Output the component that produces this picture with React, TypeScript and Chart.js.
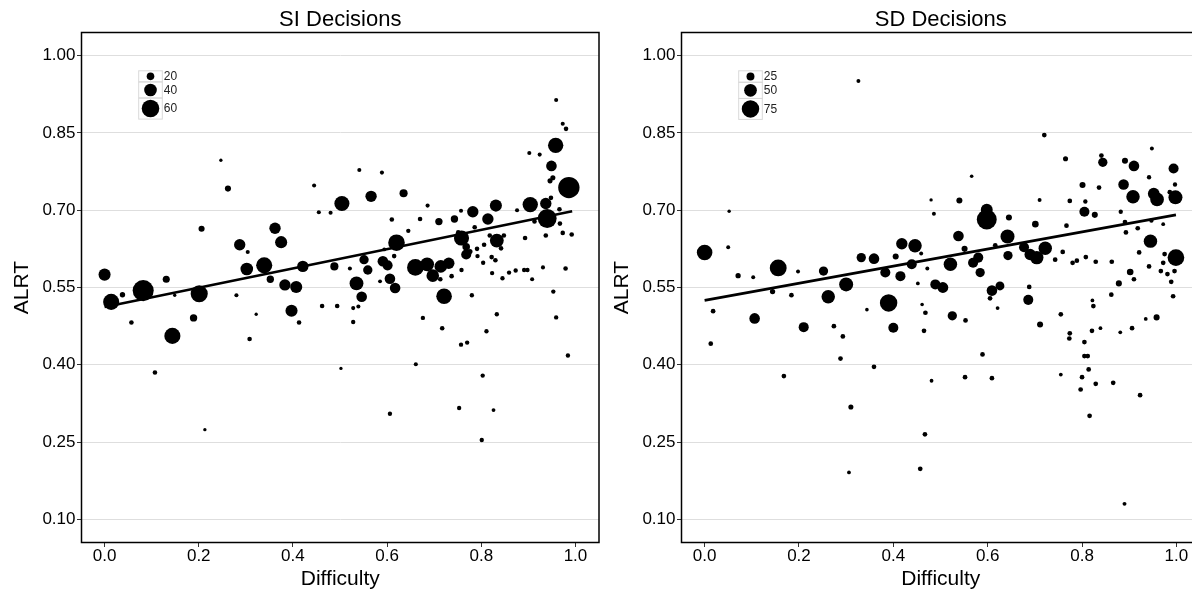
import React, { useEffect, useRef } from "react";
import { Chart, registerables } from "chart.js";

Chart.register(...registerables);

const FONT = '"Liberation Sans", Arial, Helvetica, sans-serif';

// ---- Data (Difficulty, ALRT, n) ----
const siPoints: [number, number, number][] = [
  [0.247, 0.797, 3], [0.262, 0.742, 14], [0.445, 0.748, 6], [0.455, 0.696, 6], [0.48, 0.695, 6],
  [0.504, 0.713, 50], [0.206, 0.664, 14], [0.362, 0.665, 35], [0.287, 0.633, 35], [0.375, 0.638, 38],
  [0.304, 0.619, 6], [0.0, 0.575, 38], [0.014, 0.522, 54], [0.038, 0.536, 11], [0.082, 0.544, 74],
  [0.131, 0.566, 18], [0.149, 0.535, 3], [0.201, 0.538, 58], [0.28, 0.535, 6], [0.302, 0.586, 40],
  [0.339, 0.593, 54], [0.352, 0.566, 19], [0.383, 0.555, 35], [0.407, 0.551, 38], [0.421, 0.591, 35],
  [0.397, 0.505, 38], [0.462, 0.514, 8], [0.488, 0.591, 22], [0.057, 0.482, 8], [0.144, 0.456, 54],
  [0.189, 0.491, 19], [0.107, 0.385, 8], [0.213, 0.274, 3], [0.308, 0.45, 8], [0.322, 0.498, 3],
  [0.413, 0.482, 8], [0.494, 0.514, 8], [0.502, 0.393, 3], [0.566, 0.727, 35], [0.635, 0.733, 22],
  [0.686, 0.709, 6], [0.61, 0.682, 8], [0.67, 0.683, 8], [0.71, 0.678, 19], [0.743, 0.683, 19],
  [0.757, 0.699, 6], [0.782, 0.697, 35], [0.831, 0.709, 38], [0.814, 0.683, 35], [0.786, 0.667, 8],
  [0.876, 0.7, 6], [0.904, 0.711, 51], [0.937, 0.713, 35], [0.948, 0.724, 8], [0.94, 0.684, 65],
  [0.986, 0.744, 75], [0.966, 0.702, 8], [0.967, 0.674, 8], [0.973, 0.656, 8], [0.992, 0.653, 8],
  [0.913, 0.678, 8], [0.893, 0.646, 8], [0.937, 0.651, 8], [0.979, 0.587, 8], [0.931, 0.589, 6],
  [0.953, 0.542, 7], [0.758, 0.646, 50], [0.768, 0.629, 20], [0.768, 0.614, 30], [0.833, 0.641, 45],
  [0.842, 0.626, 8], [0.791, 0.625, 8], [0.806, 0.633, 8], [0.792, 0.611, 7], [0.804, 0.598, 7],
  [0.822, 0.609, 8], [0.83, 0.603, 8], [0.823, 0.578, 7], [0.845, 0.568, 7], [0.859, 0.579, 7],
  [0.873, 0.583, 7], [0.891, 0.584, 7], [0.898, 0.584, 7], [0.908, 0.566, 6], [0.78, 0.535, 7],
  [0.721, 0.533, 52], [0.645, 0.66, 7], [0.62, 0.637, 56], [0.594, 0.624, 5], [0.551, 0.604, 27],
  [0.521, 0.587, 6], [0.559, 0.584, 27], [0.591, 0.601, 32], [0.601, 0.593, 30], [0.615, 0.611, 8],
  [0.66, 0.589, 56], [0.685, 0.595, 45], [0.697, 0.573, 40], [0.714, 0.591, 40], [0.731, 0.597, 35],
  [0.713, 0.566, 8], [0.737, 0.572, 8], [0.758, 0.584, 7], [0.535, 0.558, 45], [0.546, 0.532, 32],
  [0.606, 0.567, 32], [0.617, 0.549, 32], [0.585, 0.562, 5], [0.528, 0.51, 6], [0.539, 0.513, 6],
  [0.528, 0.483, 7], [0.676, 0.491, 7], [0.717, 0.471, 8], [0.661, 0.401, 6], [0.606, 0.305, 7],
  [0.757, 0.439, 7], [0.77, 0.443, 7], [0.811, 0.465, 7], [0.833, 0.498, 7], [0.803, 0.379, 7],
  [0.753, 0.316, 7], [0.826, 0.312, 5], [0.801, 0.254, 7], [0.959, 0.492, 7], [0.984, 0.418, 7],
  [0.959, 0.914, 6], [0.973, 0.868, 6], [0.98, 0.858, 8], [0.958, 0.826, 51], [0.902, 0.811, 6],
  [0.924, 0.808, 6], [0.949, 0.786, 32], [0.946, 0.757, 10], [0.952, 0.763, 10], [0.541, 0.778, 6],
  [0.589, 0.773, 6], [0.751, 0.657, 8], [0.818, 0.651, 8], [0.848, 0.651, 8], [0.776, 0.62, 10],
];

const sdPoints: [number, number, number][] = [
  [0.326, 0.951, 4], [0.052, 0.698, 1], [0.48, 0.72, 1], [0.486, 0.693, 4], [0.0, 0.618, 65],
  [0.05, 0.628, 4], [0.071, 0.573, 11], [0.103, 0.57, 4], [0.156, 0.588, 72], [0.198, 0.581, 4],
  [0.252, 0.582, 32], [0.332, 0.608, 32], [0.359, 0.606, 39], [0.405, 0.61, 15], [0.418, 0.635, 43],
  [0.446, 0.631, 54], [0.459, 0.616, 4], [0.439, 0.595, 36], [0.472, 0.587, 4], [0.383, 0.579, 36],
  [0.415, 0.572, 36], [0.452, 0.558, 3], [0.489, 0.556, 36], [0.505, 0.55, 40], [0.3, 0.556, 57],
  [0.262, 0.532, 54], [0.39, 0.52, 75], [0.144, 0.542, 11], [0.184, 0.535, 8], [0.018, 0.504, 8],
  [0.106, 0.49, 39], [0.21, 0.473, 36], [0.344, 0.507, 2], [0.274, 0.475, 8], [0.293, 0.455, 8],
  [0.4, 0.472, 36], [0.461, 0.517, 2], [0.468, 0.501, 8], [0.465, 0.466, 8], [0.013, 0.441, 8],
  [0.288, 0.412, 8], [0.359, 0.396, 8], [0.168, 0.378, 8], [0.481, 0.369, 3], [0.31, 0.318, 10],
  [0.467, 0.265, 8], [0.306, 0.191, 3], [0.457, 0.198, 8], [0.765, 0.8, 10], [0.841, 0.806, 8],
  [0.844, 0.793, 32], [0.891, 0.796, 15], [0.91, 0.786, 39], [0.994, 0.781, 36], [0.948, 0.82, 4],
  [0.566, 0.766, 2], [0.942, 0.764, 6], [0.801, 0.749, 15], [0.836, 0.744, 8], [0.888, 0.75, 39],
  [0.997, 0.75, 6], [0.908, 0.726, 54], [0.952, 0.732, 45], [0.959, 0.721, 55], [0.998, 0.725, 57],
  [0.986, 0.735, 8], [0.54, 0.719, 15], [0.71, 0.72, 4], [0.774, 0.718, 8], [0.807, 0.717, 6],
  [0.805, 0.697, 36], [0.827, 0.691, 15], [0.882, 0.697, 6], [0.598, 0.701, 46], [0.598, 0.682, 88],
  [0.645, 0.686, 15], [0.701, 0.673, 18], [0.767, 0.67, 8], [0.891, 0.677, 8], [0.893, 0.657, 8],
  [0.918, 0.665, 8], [0.947, 0.68, 6], [0.972, 0.673, 3], [0.538, 0.65, 39], [0.642, 0.649, 57],
  [0.551, 0.625, 15], [0.616, 0.632, 8], [0.677, 0.628, 36], [0.722, 0.626, 54], [0.69, 0.614, 43],
  [0.704, 0.608, 54], [0.643, 0.612, 32], [0.58, 0.608, 36], [0.569, 0.598, 36], [0.521, 0.595, 54],
  [0.584, 0.579, 32], [0.743, 0.604, 8], [0.759, 0.619, 8], [0.78, 0.598, 8], [0.789, 0.602, 8],
  [0.808, 0.609, 8], [0.829, 0.6, 8], [0.863, 0.6, 8], [0.945, 0.64, 54], [0.921, 0.618, 8],
  [0.975, 0.615, 8], [0.999, 0.608, 71], [0.942, 0.591, 8], [0.972, 0.598, 8], [0.967, 0.582, 8],
  [0.981, 0.576, 8], [0.996, 0.582, 8], [0.989, 0.561, 8], [0.993, 0.533, 8], [0.902, 0.58, 18],
  [0.91, 0.566, 8], [0.878, 0.558, 15], [0.862, 0.536, 8], [0.822, 0.525, 3], [0.824, 0.514, 8],
  [0.688, 0.551, 8], [0.686, 0.526, 36], [0.621, 0.51, 3], [0.609, 0.544, 39], [0.626, 0.553, 30],
  [0.605, 0.529, 8], [0.525, 0.495, 32], [0.553, 0.486, 8], [0.589, 0.42, 8], [0.552, 0.376, 8],
  [0.609, 0.374, 8], [0.711, 0.478, 15], [0.755, 0.498, 8], [0.774, 0.461, 8], [0.773, 0.451, 8],
  [0.805, 0.444, 8], [0.805, 0.417, 8], [0.812, 0.417, 8], [0.814, 0.391, 8], [0.755, 0.381, 3],
  [0.8, 0.376, 8], [0.797, 0.352, 8], [0.829, 0.363, 8], [0.866, 0.365, 8], [0.923, 0.341, 8],
  [0.816, 0.301, 8], [0.89, 0.13, 4], [0.821, 0.466, 8], [0.839, 0.471, 3], [0.881, 0.463, 3],
  [0.906, 0.471, 8], [0.935, 0.489, 3], [0.958, 0.492, 15], [0.72, 0.846, 8],
];

// fitted lines (endpoints)
const siFit: [number, number][] = [[0.0, 0.512], [0.993, 0.698]];
const sdFit: [number, number][] = [[0.0, 0.525], [0.999, 0.691]];

const siLegendBreaks = [20, 40, 60];
const sdLegendBreaks = [25, 50, 75];

const xTicks = [0, 0.2, 0.4, 0.6, 0.8, 1.0];
const yTicks = [0.1, 0.25, 0.4, 0.55, 0.7, 0.85, 1.0];

const siRadius = (n: number) => 1.3 + 0.125 * n;
const sdRadius = (n: number) => 1.6 + 0.095 * n;

function makePanelPlugin(title: string, breaks: number[], radius: (n: number) => number) {
  return {
    id: "panelDecor",
    afterDraw(chart: any) {
      const { ctx, chartArea: a } = chart;
      ctx.save();
      // border
      ctx.strokeStyle = "#000";
      ctx.lineWidth = 1.5;
      ctx.strokeRect(a.left, a.top, a.right - a.left, a.bottom - a.top);
      // title
      ctx.fillStyle = "#000";
      ctx.font = `22px ${FONT}`;
      ctx.textAlign = "center";
      ctx.textBaseline = "middle";
      ctx.fillText(title, (a.left + a.right) / 2, 20);
      // size legend
      const x0 = a.left + 57.2;
      let y = a.top + 38.3;
      const w = 23.6;
      ctx.font = `12px ${FONT}`;
      ctx.textAlign = "left";
      breaks.forEach((b) => {
        const r = radius(b);
        const h = 2 * r + 3.5;
        ctx.strokeStyle = "#d9d9d9";
        ctx.lineWidth = 1;
        ctx.strokeRect(x0, y, w, h);
        ctx.fillStyle = "#000";
        ctx.beginPath();
        ctx.arc(x0 + w / 2, y + h / 2, r, 0, Math.PI * 2);
        ctx.fill();
        ctx.fillStyle = "#222";
        ctx.fillText(String(b), x0 + w + 1.5, y + h / 2 + 0.5);
        y += h;
      });
      ctx.restore();
    },
  };
}

function makeConfig(points: [number, number, number][], fit: [number, number][], title: string, breaks: number[], radius: (n: number) => number): any {
  return {
    type: "scatter",
    data: {
      datasets: [
        {
          data: fit.map(([x, y]) => ({ x, y })),
          showLine: true,
          borderColor: "#000",
          borderWidth: 2.6,
          pointRadius: 0,
          fill: false,
        },
        {
          data: points.map(([x, y, n]) => ({ x, y, n })),
          backgroundColor: "#000",
          borderWidth: 0,
          pointRadius: (c: any) => radius(c.raw && typeof c.raw.n === "number" ? c.raw.n : 5),
          pointHoverRadius: (c: any) => radius(c.raw && typeof c.raw.n === "number" ? c.raw.n : 5),
        },
      ],
    },
    options: {
      responsive: false,
      animation: false,
      devicePixelRatio: 1,
      events: [],
      layout: { autoPadding: false, padding: { top: 32.5, right: 1, left: 0, bottom: 0 } },
      plugins: {
        legend: { display: false },
        tooltip: { enabled: false },
        title: { display: false },
      },
      scales: {
        x: {
          type: "linear",
          min: -0.049,
          max: 1.05,
          afterBuildTicks: (s: any) => {
            s.ticks = xTicks.map((v) => ({ value: v }));
          },
          afterFit: (s: any) => {
            s.height = 52.5;
            s.paddingLeft = 0;
            s.paddingRight = 0;
          },
          border: { display: false },
          grid: { drawOnChartArea: false, drawTicks: true, tickLength: 4.5, tickColor: "#333", tickWidth: 1 },
          ticks: {
            color: "#000",
            font: { family: FONT, size: 17 },
            padding: -1,
            maxRotation: 0,
            autoSkip: false,
            callback: (v: any) => Number(v).toFixed(1),
          },
          title: {
            display: true,
            text: "Difficulty",
            color: "#000",
            font: { family: FONT, size: 21 },
            padding: { top: 0, bottom: 3 },
          },
        },
        y: {
          type: "linear",
          min: 0.055,
          max: 1.045,
          afterBuildTicks: (s: any) => {
            s.ticks = yTicks.map((v) => ({ value: v }));
          },
          afterFit: (s: any) => {
            s.width = 81.5;
            s.paddingTop = 0;
            s.paddingBottom = 0;
          },
          border: { display: false },
          grid: { color: "#dedede", lineWidth: 1, drawTicks: true, tickLength: 4.5, tickColor: "#333", tickWidth: 1 },
          ticks: {
            color: "#000",
            font: { family: FONT, size: 17 },
            padding: 1.5,
            autoSkip: false,
            callback: (v: any) => Number(v).toFixed(2),
          },
          title: {
            display: true,
            text: "ALRT",
            color: "#000",
            font: { family: FONT, size: 21 },
            padding: { top: 10, bottom: 0 },
          },
        },
      },
    },
    plugins: [makePanelPlugin(title, breaks, radius)],
  };
}

export default function App() {
  const leftRef = useRef<HTMLCanvasElement>(null);
  const rightRef = useRef<HTMLCanvasElement>(null);

  useEffect(() => {
    const c1 = new Chart(leftRef.current as HTMLCanvasElement, makeConfig(siPoints, siFit, "SI Decisions", siLegendBreaks, siRadius));
    const c2 = new Chart(rightRef.current as HTMLCanvasElement, makeConfig(sdPoints, sdFit, "SD Decisions", sdLegendBreaks, sdRadius));
    return () => {
      c1.destroy();
      c2.destroy();
    };
  }, []);

  return (
    <div style={{ position: "fixed", left: 0, top: 0, width: 1192, height: 595, overflow: "hidden", background: "#fff" }}>
      <canvas ref={leftRef} width={600} height={595} style={{ position: "absolute", left: 0, top: 0, width: 600, height: 595 }} />
      <canvas ref={rightRef} width={601} height={595} style={{ position: "absolute", left: 600, top: 0, width: 601, height: 595 }} />
    </div>
  );
}
